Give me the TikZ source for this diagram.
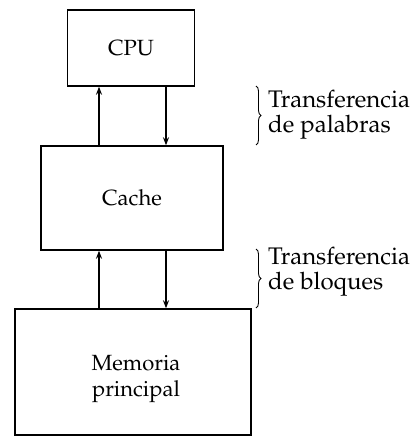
\documentclass[tikz,border=0pt]{standalone}
\usepackage[T1]{fontenc}
\usepackage{mathpazo}
\usetikzlibrary{decorations.pathreplacing,arrows.meta}
\begin{document}
\begin{tikzpicture}[x=1pt,y=-1pt,
  unit/.style={draw, line width=1.4pt, rectangle, inner sep=0pt,
    font=\fontsize{22}{26}\selectfont, align=center},
  flow/.style={line width=2pt, -{Stealth[length=8pt,width=6pt]}},
  grp/.style={decorate, decoration={brace, amplitude=5pt}, line width=0.9pt},
  note/.style={align=left, font=\fontsize{24}{25}\selectfont, inner sep=0pt}]
  \useasboundingbox (0,0) rectangle (410,443);

  % storage hierarchy
  \node[unit, minimum width=127pt, minimum height=76pt] (cpu) at (131,48) {CPU};
  \node[unit, minimum width=182pt, minimum height=104pt] (cache) at (132,198) {Cache};
  \node[unit, minimum width=236pt, minimum height=126pt] (mem) at (133,372) {};
  \node[font=\fontsize{22}{26}\selectfont, align=center, inner sep=0pt] (memtext) at (136,379) {Memoria\\principal};

  % columns of the data paths
  \coordinate (up) at (99,0);
  \coordinate (dn) at (166,0);

  \draw[flow] (cache.north -| up) -- (cpu.south -| up);
  \draw[flow] (cpu.south -| dn) -- (cache.north -| dn);
  \draw[flow] (mem.north -| up) -- (cache.south -| up);
  \draw[flow] (cache.south -| dn) -- (mem.north -| dn);

  % transfer units
  \coordinate (b1t) at (256,86);
  \coordinate (b1b) at (256,145);
  \coordinate (b2t) at (256,249);
  \coordinate (b2b) at (256,308);
  \draw[grp] (b1t) -- (b1b);
  \draw[grp] (b2t) -- (b2b);
  \node[note, anchor=west] (t1) at (268,115) {Transferencia\\de palabras};
  \node[note, anchor=west] (t2) at (268,272) {Transferencia\\de bloques};
\end{tikzpicture}
\end{document}
